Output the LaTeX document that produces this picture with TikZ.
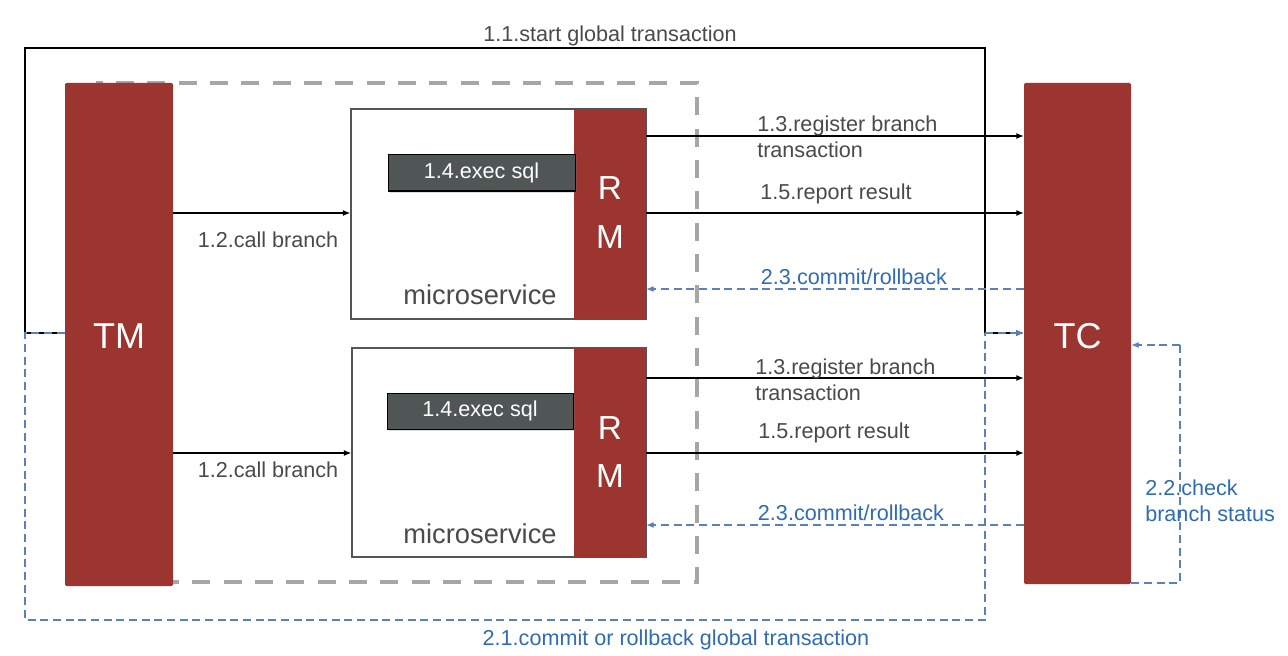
\documentclass[tikz,border=0pt]{standalone}
\usepackage{fontspec}
\setmainfont{Liberation Sans}
\usetikzlibrary{arrows.meta,shadows}
\definecolor{tmred}{HTML}{9C352F}
\definecolor{sqlgray}{HTML}{505556}
\definecolor{txtgray}{HTML}{4A4A4A}
\definecolor{bluetxt}{HTML}{2F6CB5}
\definecolor{blueline}{HTML}{5B80C0}
\definecolor{dashgray}{HTML}{A6A6A6}
\definecolor{boxgray}{HTML}{555555}
\tikzset{
  redbox/.style={fill=tmred,draw=none,rounded corners=1pt,text=white,inner sep=0pt},
  msbox/.style={draw=boxgray,line width=1.5pt*0.75,fill=white,inner sep=0pt},
  sqlbox/.style={fill=sqlgray,draw=black,line width=0.75pt,text=white,inner sep=0pt,font=\fontsize{16.2pt}{19pt}\selectfont,
     drop shadow={opacity=0.25,shadow xshift=1.2pt,shadow yshift=-1.8pt}},
  lbl/.style={text=txtgray,font=\fontsize{16.2pt}{19.5pt}\selectfont,inner sep=0pt},
  blbl/.style={text=bluetxt,font=\fontsize{16.2pt}{19.5pt}\selectfont,inner sep=0pt},
  rmtxt/.style={text=white,font=\fontsize{25pt}{27pt}\selectfont,inner sep=0pt},
  mstxt/.style={text=txtgray,font=\fontsize{20.5pt}{23pt}\selectfont,inner sep=0pt},
  tip/.style={-{Latex[length=5.5pt,width=4.5pt]}},
  blk/.style={tip,draw=black,line width=0.9pt},
  bdash/.style={draw=blueline,line width=0.8pt,dash pattern=on 6pt off 3.5pt},
  bdasharr/.style={bdash,-{Latex[length=5.5pt,width=4.5pt,fill=blueline]}},
}
\begin{document}
\begin{tikzpicture}[x=0.75pt,y=-0.75pt]
\useasboundingbox[fill=white] (0,0) rectangle (1288,656);
% gray dashed grouping box
\draw[dashgray,line width=3pt,dash pattern=on 13.5pt off 10pt] (96,83) rectangle (697,582);
% corner points of the outer loops
\coordinate (tl) at (25,48);
\coordinate (tr) at (985,48);
\coordinate (bl) at (25,620);
\coordinate (br) at (985,620);
% main nodes
\node[redbox,minimum width=81pt,minimum height=377.25pt] (TM) at (119,334.5) {};
\node[text=white,font=\fontsize{27pt}{30pt}\selectfont] (TMl) at (119,336) {TM};
\node[redbox,minimum width=80.25pt,minimum height=375.75pt] (TC) at (1077.5,333.5) {};
\node[text=white,font=\fontsize{27pt}{30pt}\selectfont] (TCl) at (1077.5,336) {TC};
% microservices
\node[msbox,minimum width=221.25pt,minimum height=157.5pt] (ms1) at (498.5,214) {};
\node[redbox,rounded corners=0pt,minimum width=54pt,minimum height=157.5pt] (rm1) at (610,214) {};
\node[rmtxt] (rm1r) at (610,188) {R};
\node[rmtxt] (rm1m) at (610,237) {M};
\node[mstxt] (ms1l) at (480,295) {microservice};
\node[sqlbox,minimum width=140.25pt,minimum height=27pt] (sql1) at (481.5,173) {1.4.exec sql};
\node[msbox,minimum width=220.5pt,minimum height=156.75pt] (ms2) at (499,452.5) {};
\node[redbox,rounded corners=0pt,minimum width=54pt,minimum height=156.75pt] (rm2) at (610,452.5) {};
\node[rmtxt] (rm2r) at (610,428) {R};
\node[rmtxt] (rm2m) at (610,476) {M};
\node[mstxt] (ms2l) at (480,534) {microservice};
\node[sqlbox,minimum width=139.5pt,minimum height=27pt] (sql2) at (480,411) {1.4.exec sql};
% 1.1 start global transaction
\draw[blk] (TM.west |- 0,333) -- (25,333) -- (tl) -- (tr) -- (985,333) -- (TC.west |- 0,333);
\node[lbl] (l11) at (610,36) {1.1.start global transaction};
% 2.1 commit or rollback global
\draw[bdash] (TM.west |- 0,333) -- (25,333) -- (bl) -- (br) -- (985,333);
\draw[bdasharr] (985,333) -- (TC.west |- 0,333);
\node[blbl] (l21) at (676,640) {2.1.commit or rollback global transaction};
% 1.2 call branch
\draw[blk] (TM.east |- 0,213) -- (ms1.west |- 0,213);
\node[lbl] (l12a) at (268,240) {1.2.call branch};
\draw[blk] (TM.east |- 0,453) -- (ms2.west |- 0,453);
\node[lbl] (l12b) at (268,470) {1.2.call branch};
% upper RM <-> TC
\draw[blk] (rm1.east |- 0,136) -- (TC.west |- 0,136);
\node[lbl,anchor=west,align=left] (l13a) at (757,137) {1.3.register branch\\transaction};
\draw[blk] (rm1.east |- 0,213) -- (TC.west |- 0,213);
\node[lbl] (l15a) at (836,194) {1.5.report result};
\draw[bdasharr] (TC.west |- 0,289) -- (rm1.east |- 0,289);
\node[blbl] (l23a) at (854,277) {2.3.commit/rollback};
% lower RM <-> TC
\draw[blk] (rm2.east |- 0,378) -- (TC.west |- 0,378);
\node[lbl,anchor=west,align=left] (l13b) at (755,379.5) {1.3.register branch\\transaction};
\draw[blk] (rm2.east |- 0,453) -- (TC.west |- 0,453);
\node[lbl] (l15b) at (834,433) {1.5.report result};
\draw[bdasharr] (TC.west |- 0,525) -- (rm2.east |- 0,525);
\node[blbl] (l23b) at (851,513) {2.3.commit/rollback};
% 2.2 check branch status
\draw[bdash] (TC.east |- 0,583) -- (1180,583) -- (1180,345);
\draw[bdasharr] (1180,345) -- (TC.east |- 0,345);
\node[blbl,anchor=west,align=left] (l22) at (1145,500.5) {2.2.check\\branch status};
\end{tikzpicture}
\end{document}
